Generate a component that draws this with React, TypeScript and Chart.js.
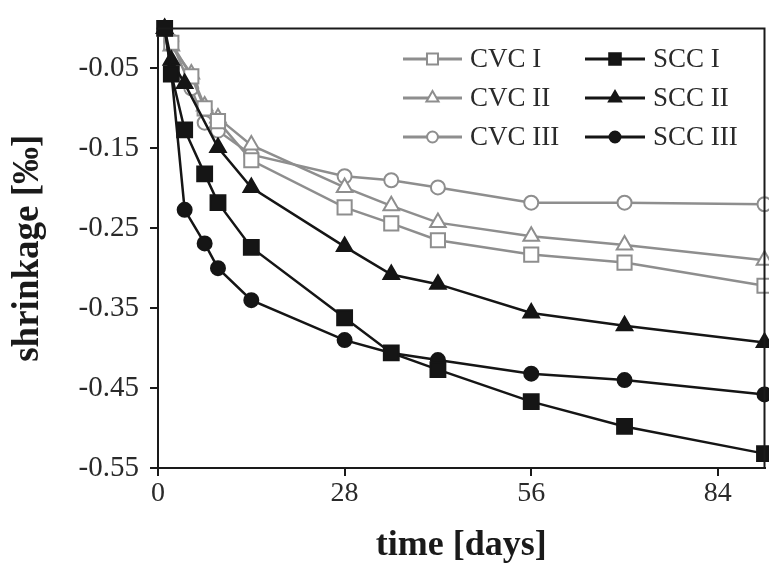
import React, { useEffect, useRef } from "react";
import { Chart, registerables } from "chart.js";

Chart.register(...registerables);

// ---- data ----
const daysSCC = [1, 2, 4, 7, 9, 14, 28, 35, 42, 56, 70, 91];
const daysSCCII = [1, 2, 4, 9, 14, 28, 35, 42, 56, 70, 91];
const daysCVC = [1, 2, 5, 7, 9, 14, 28, 35, 42, 56, 70, 91];

const sccI = [0, -0.057, -0.127, -0.182, -0.218, -0.274, -0.362, -0.406, -0.427, -0.467, -0.498, -0.532];
const sccII = [0, -0.04, -0.069, -0.149, -0.199, -0.273, -0.308, -0.32, -0.356, -0.372, -0.393];
const sccIII = [0, -0.055, -0.227, -0.269, -0.3, -0.34, -0.39, -0.406, -0.415, -0.432, -0.44, -0.458];

const cvcI = [0, -0.018, -0.06, -0.1, -0.116, -0.165, -0.224, -0.244, -0.265, -0.283, -0.293, -0.322];
const cvcII = [0, -0.022, -0.057, -0.097, -0.112, -0.146, -0.199, -0.222, -0.243, -0.26, -0.271, -0.29];
const cvcIII = [0, -0.016, -0.075, -0.118, -0.128, -0.158, -0.185, -0.19, -0.199, -0.218, -0.218, -0.22];

const seriesLabels = ["CVC I", "CVC II", "CVC III", "SCC I", "SCC II", "SCC III"];

const xTicks = [0, 28, 56, 84];
const yTicks = [-0.05, -0.15, -0.25, -0.35, -0.45, -0.55];
const xMin = 0;
const xMax = 91;
const yMin = -0.55;
const yMax = 0;

const xTitle = "time [days]";
const yTitle = "shrinkage [‰]";

const SERIF = "'Liberation Serif', 'Times New Roman', serif";
const GRAY = "#8e8e8e";
const BLACK = "#151515";

function pts(xs: number[], ys: number[]) {
  return xs.map((x, i) => ({ x, y: ys[i] }));
}

function drawMarker(
  ctx: CanvasRenderingContext2D,
  style: string,
  x: number,
  y: number,
  r: number,
  fill: string,
  stroke: string,
  lw: number
) {
  ctx.beginPath();
  if (style === "rect") {
    const s = r * Math.SQRT1_2;
    ctx.rect(x - s, y - s, 2 * s, 2 * s);
  } else if (style === "triangle") {
    ctx.moveTo(x, y - r);
    ctx.lineTo(x + 0.866 * r, y + 0.5 * r);
    ctx.lineTo(x - 0.866 * r, y + 0.5 * r);
    ctx.closePath();
  } else {
    ctx.arc(x, y, r, 0, Math.PI * 2);
  }
  ctx.fillStyle = fill;
  ctx.fill();
  ctx.lineWidth = lw;
  ctx.strokeStyle = stroke;
  ctx.stroke();
}

const frameAndLegend = {
  id: "frameAndLegend",
  afterDraw(chart: any) {
    const { ctx, chartArea } = chart;
    ctx.save();
    ctx.strokeStyle = "#1a1a1a";
    ctx.lineWidth = 2;
    ctx.beginPath();
    ctx.moveTo(chartArea.left, chartArea.top);
    ctx.lineTo(chartArea.right, chartArea.top);
    ctx.lineTo(chartArea.right, chartArea.bottom);
    ctx.stroke();

    // legend: two columns, three rows
    const colLine = [
      [403, 462],
      [585, 645],
    ];
    const colText = [470, 653];
    const rowY = [59, 98, 137];
    chart.data.datasets.forEach((ds: any) => {
      const idx = seriesLabels.indexOf(ds.label);
      const col = idx < 3 ? 0 : 1;
      const row = idx % 3;
      const y = rowY[row];
      const [x0, x1] = colLine[col];
      ctx.beginPath();
      ctx.strokeStyle = ds.borderColor;
      ctx.lineWidth = ds.borderWidth + 0.5;
      ctx.moveTo(x0, y);
      ctx.lineTo(x1, y);
      ctx.stroke();
      drawMarker(
        ctx,
        ds.pointStyle,
        (x0 + x1) / 2,
        y,
        ds.pointRadius * 0.78,
        ds.pointBackgroundColor,
        ds.pointBorderColor,
        ds.pointBorderWidth
      );
      ctx.fillStyle = "#2a2a2a";
      ctx.font = `27px ${SERIF}`;
      ctx.textAlign = "left";
      ctx.textBaseline = "middle";
      ctx.fillText(ds.label, colText[col], y + 1);
    });
    ctx.restore();
  },
};

function mkSet(label: string, data: any[], style: string, filled: boolean, radius: number) {
  const color = filled ? BLACK : GRAY;
  return {
    label,
    data,
    borderColor: color,
    borderWidth: 2.5,
    pointStyle: style,
    pointRadius: radius,
    pointHoverRadius: radius,
    pointBackgroundColor: filled ? BLACK : "#ffffff",
    pointBorderColor: color,
    pointBorderWidth: 2,
    tension: 0,
    fill: false,
    clip: false as any,
  };
}

export default function App() {
  const ref = useRef<HTMLCanvasElement | null>(null);

  useEffect(() => {
    if (!ref.current) return;
    const chart = new Chart(ref.current, {
      type: "line",
      data: {
        datasets: [
          mkSet(seriesLabels[3], pts(daysSCC, sccI), "rect", true, 10.5),
          mkSet(seriesLabels[4], pts(daysSCCII, sccII), "triangle", true, 9),
          mkSet(seriesLabels[5], pts(daysSCC, sccIII), "circle", true, 7),
          mkSet(seriesLabels[0], pts(daysCVC, cvcI), "rect", false, 10),
          mkSet(seriesLabels[1], pts(daysCVC, cvcII), "triangle", false, 9),
          mkSet(seriesLabels[2], pts(daysCVC, cvcIII), "circle", false, 7),
        ] as any,
      },
      options: {
        animation: false,
        responsive: false,
        devicePixelRatio: 1,
        layout: { padding: { top: 27, right: 0, left: 0, bottom: 0 } },
        plugins: {
          legend: { display: false },
          tooltip: { enabled: false },
        },
        scales: {
          x: {
            type: "linear",
            min: xMin,
            max: xMax,
            afterBuildTicks: (scale: any) => {
              scale.ticks = xTicks.map((v) => ({ value: v }));
            },
            afterFit: (scale: any) => {
              scale.height = 95;
              scale.paddingRight = 0;
              scale.paddingLeft = 0;
            },
            ticks: {
              color: "#2a2a2a",
              font: { family: SERIF, size: 28 },
              padding: 1,
              maxRotation: 0,
              callback: (v: any) => String(v),
            },
            grid: {
              drawOnChartArea: false,
              drawTicks: true,
              tickLength: 8,
              color: "#1a1a1a",
              lineWidth: 2,
            },
            border: { display: true, color: "#1a1a1a", width: 2 },
            title: {
              display: true,
              text: xTitle,
              color: "#1a1a1a",
              font: { family: SERIF, size: 36, weight: "bold", lineHeight: 0.95 },
              padding: { top: 0, bottom: 0 },
            },
          },
          y: {
            type: "linear",
            min: yMin,
            max: yMax,
            afterBuildTicks: (scale: any) => {
              scale.ticks = yTicks.map((v) => ({ value: v }));
            },
            afterFit: (scale: any) => {
              scale.width = 158;
            },
            ticks: {
              color: "#2a2a2a",
              font: { family: SERIF, size: 29 },
              padding: 11,
              callback: (v: any) => Number(v).toFixed(2),
            },
            grid: {
              drawOnChartArea: false,
              drawTicks: true,
              tickLength: 8,
              color: "#1a1a1a",
              lineWidth: 2,
            },
            border: { display: true, color: "#1a1a1a", width: 2 },
            title: {
              display: true,
              text: yTitle,
              color: "#1a1a1a",
              font: { family: SERIF, size: 37, weight: "bold", lineHeight: 1.1 },
              padding: { top: 8, bottom: 0 },
            },
          },
        },
      },
      plugins: [frameAndLegend],
    });
    return () => chart.destroy();
  }, []);

  return (
    <div
      style={{
        position: "fixed",
        left: 0,
        top: 0,
        width: 769,
        height: 563,
        overflow: "hidden",
        background: "#fff",
      }}
    >
      <canvas ref={ref} width={777} height={563} style={{ display: "block" }} />
    </div>
  );
}
